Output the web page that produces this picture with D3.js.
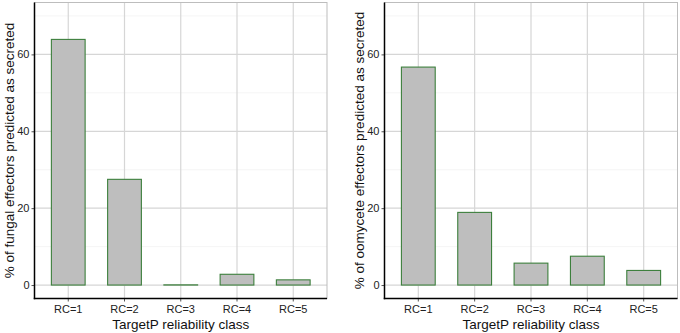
<!DOCTYPE html>
<html><head><meta charset="utf-8">
<script src="https://cdn.jsdelivr.net/npm/d3@7"></script>
<style>body{margin:0;background:#fff}svg{display:block}</style>
</head><body><svg id="c" width="680" height="333"></svg>
<script>
const categories = ["RC=1","RC=2","RC=3","RC=4","RC=5"];
const fungalValues = [63.9, 27.5, 0.05, 2.8, 1.35];
const oomyceteValues = [56.7, 18.9, 5.7, 7.5, 3.8];
const yTicks = [0, 20, 40, 60];
const yMinor = [10, 30, 50, 70];
const yTitles = ["% of fungal effectors predicted as secreted", "% of oomycete effectors predicted as secreted"];
const xTitle = "TargetP reliability class";

const svg = d3.select("#c");
const font = "Liberation Sans, Arial, sans-serif";
const panels = [
  {x0: 34.5, x1: 327, vals: fungalValues, title: yTitles[0], tx: 9},
  {x0: 384.5, x1: 677.5, vals: oomyceteValues, title: yTitles[1], tx: 359}
];
const yTop = 2.5, yBot = 298.5;

panels.forEach(p => {
  const g = svg.append("g");
  const y = d3.scaleLinear().domain([-3.5, 73.5]).range([yBot, yTop]);
  const x = d3.scaleBand().domain(categories).range([p.x0, p.x1]).paddingInner(0.4).paddingOuter(0.3);
  const xc = d => x(d) + x.bandwidth() / 2;
  g.selectAll(".ymin").data(yMinor).join("line")
    .attr("x1", p.x0).attr("x2", p.x1).attr("y1", d => y(d)).attr("y2", d => y(d))
    .attr("stroke", "#f2f2f2").attr("stroke-width", 0.8);
  g.selectAll(".ymaj").data(yTicks).join("line")
    .attr("x1", p.x0).attr("x2", p.x1).attr("y1", d => y(d)).attr("y2", d => y(d))
    .attr("stroke", "#d6d6d6").attr("stroke-width", 1.2);
  g.selectAll(".xmaj").data(categories).join("line")
    .attr("x1", xc).attr("x2", xc).attr("y1", yTop).attr("y2", yBot)
    .attr("stroke", "#d6d6d6").attr("stroke-width", 1.2);
  g.append("rect").attr("x", p.x0).attr("y", yTop).attr("width", p.x1 - p.x0).attr("height", yBot - yTop)
    .attr("fill", "none").attr("stroke", "#bdbdbd").attr("stroke-width", 1);
  g.selectAll(".bar").data(categories).join("rect")
    .attr("x", d => x(d)).attr("width", x.bandwidth())
    .attr("y", (d, i) => y(p.vals[i])).attr("height", (d, i) => y(0) - y(p.vals[i]))
    .attr("fill", "#bebebe").attr("stroke", "#3c7f3c").attr("stroke-width", 1.1);
  const ya = d3.axisLeft(y).tickValues(yTicks).tickSize(3).tickPadding(2);
  const yg = g.append("g").attr("transform", `translate(${p.x0},0)`).call(ya);
  yg.select(".domain").remove();
  yg.selectAll(".tick line").attr("stroke", "#555");
  yg.selectAll("text").attr("font-family", font).attr("font-size", 11).attr("fill", "#222");
  const xa = d3.axisBottom(x).tickSize(3).tickPadding(4);
  const xg = g.append("g").attr("transform", `translate(0,${yBot})`).call(xa);
  xg.select(".domain").remove();
  xg.selectAll(".tick line").attr("stroke", "#555");
  xg.selectAll("text").attr("font-family", font).attr("font-size", 11).attr("fill", "#222");
  g.append("line").attr("x1", p.x0).attr("x2", p.x0).attr("y1", yTop).attr("y2", yBot + 0.75)
    .attr("stroke", "#000").attr("stroke-width", 1.5);
  g.append("line").attr("x1", p.x0 - 0.75).attr("x2", p.x1).attr("y1", yBot).attr("y2", yBot)
    .attr("stroke", "#000").attr("stroke-width", 1.5);
  g.append("text").attr("x", (p.x0 + p.x1) / 2).attr("y", 329).attr("text-anchor", "middle")
    .attr("font-family", font).attr("font-size", 13.5).attr("fill", "#111").text(xTitle);
  g.append("text").attr("transform", `translate(${p.tx + 4.5},${(yTop + yBot) / 2}) rotate(-90)`)
    .attr("text-anchor", "middle").attr("font-family", font).attr("font-size", 13.5).attr("fill", "#111").text(p.title);
});
</script></body></html>
